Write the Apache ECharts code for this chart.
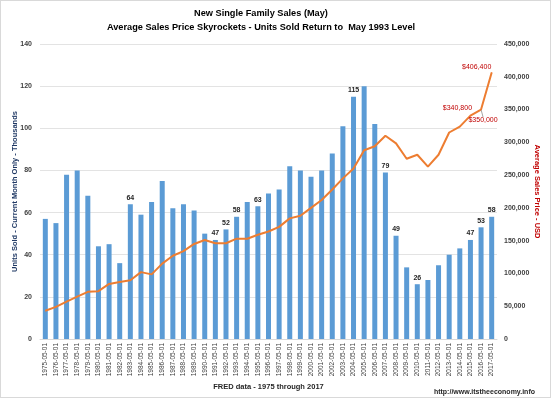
<!DOCTYPE html>
<html><head><meta charset="utf-8">
<script src="https://cdn.jsdelivr.net/npm/echarts@6/dist/echarts.min.js"></script>
<style>html,body{margin:0;padding:0;background:#fff}#c{width:551px;height:398px;box-sizing:border-box;border:1px solid #d9d9d9}</style>
</head><body><div id="c"></div>
<script>
const years = [1975,1976,1977,1978,1979,1980,1981,1982,1983,1984,1985,1986,1987,1988,1989,1990,1991,1992,1993,1994,1995,1996,1997,1998,1999,2000,2001,2002,2003,2004,2005,2006,2007,2008,2009,2010,2011,2012,2013,2014,2015,2016,2017];
const categories = years.map(y => y + '-05-01');
const unitsSold = [57,55,78,80,68,44,45,36,64,59,65,75,62,64,61,50,47,52,58,65,63,69,71,82,80,77,80,88,101,115,120,102,79,49,34,26,28,35,40,43,47,53,58];
const avgPrice = [43000,49000,57000,64500,72000,73000,84000,87000,89500,102000,98600,115000,127000,134000,145000,151000,146000,146000,153000,153000,159000,164000,171000,184000,188000,200000,212000,228000,245000,260000,288000,294000,310000,298500,275000,281000,263000,281000,315000,324000,340800,350000,406400];
const labeledBarYears = [1983,1991,1992,1993,1995,2004,2007,2008,2010,2015,2016,2017];
const labeledPriceYears = [2015,2016,2017];
const leftTicks = {min:0, max:140, interval:20};
const rightTicks = {min:0, max:450000, interval:50000};

const fmt = v => v.toString().replace(/\B(?=(\d{3})+(?!\d))/g, ',');
const F = 'Liberation Sans';

const barData = unitsSold.map((v,i) => labeledBarYears.includes(years[i]) ?
  {value:v, label:{show:true, position:'top', distance:3, fontSize:7, fontWeight:'bold', color:'#262626', fontFamily:F}} : v);
const priceLabelShift = {2015:[-13,1], 2016:[2,20], 2017:[-15,3]};
const lineData = avgPrice.map((v,i) => {
  if (labeledPriceYears.includes(years[i])) {
    return {value:v,
      label:{show:true, position:'top', formatter: p => '$' + fmt(p.value), fontSize:7, color:'#c00000', fontFamily:F},
      labelLine:{show: years[i] === 2016, lineStyle:{color:'#a6a6a6', width:1}}};
  }
  return v;
});

const chart = echarts.init(document.getElementById('c'));
chart.setOption({
  animation:false,
  textStyle:{fontFamily:F},
  grid:{left:39, right:53, top:43, bottom:58, outerBoundsMode:'none', containLabel:false},
  xAxis:{type:'category', data:categories,
    axisLabel:{rotate:90, interval:0, fontSize:6.5, color:'#404040', margin:4, fontFamily:F},
    axisTick:{show:false}, axisLine:{lineStyle:{color:'#d9d9d9'}},
    name:'FRED data - 1975 through 2017', nameLocation:'middle', nameGap:44, nameMoveOverlap:false,
    nameTextStyle:{fontSize:7.5, fontWeight:'bold', color:'#262626', fontFamily:F}},
  yAxis:[
    {type:'value', min:leftTicks.min, max:leftTicks.max, interval:leftTicks.interval,
     axisLabel:{fontSize:7, fontWeight:'bold', color:'#404040', margin:8},
     splitLine:{lineStyle:{color:'#e3e3e3'}}, axisLine:{show:false}, axisTick:{show:false},
     name:'Units Sold - Current Month Only - Thousands', nameLocation:'middle', nameGap:21, nameRotate:90, nameMoveOverlap:false,
     nameTextStyle:{fontSize:7.5, fontWeight:'bold', color:'#1f3864'}},
    {type:'value', min:rightTicks.min, max:rightTicks.max, interval:rightTicks.interval,
     axisLabel:{fontSize:7, fontWeight:'bold', color:'#404040', margin:7, formatter: v => fmt(v)},
     splitLine:{show:false}, axisLine:{show:false}, axisTick:{show:false},
     name:'Average Sales Price - USD', nameLocation:'middle', nameGap:36, nameRotate:-90, nameMoveOverlap:false,
     nameTextStyle:{fontSize:7.5, fontWeight:'bold', color:'#c00000'}}
  ],
  series:[
    {type:'bar', data:barData, yAxisIndex:0, barWidth:5, itemStyle:{color:'#5b9bd5'}},
    {type:'line', data:lineData, yAxisIndex:1, symbol:'circle', symbolSize:1, showSymbol:true,
     itemStyle:{color:'#ed7d31'}, lineStyle:{color:'#ed7d31', width:2}, z:5,
     labelLayout: p => { const s = priceLabelShift[years[p.dataIndex]]; return s ? {dx:s[0], dy:s[1]} : {}; }}
  ],
  graphic:[
    {type:'text', x:260, y:8, style:{text:'New Single Family Sales (May)', fontSize:9.2, fontWeight:'bold', fill:'#000', fontFamily:F, align:'center'}},
    {type:'text', x:260, y:22, style:{text:'Average Sales Price Skyrockets - Units Sold Return to  May 1993 Level', fontSize:9.2, fontWeight:'bold', fill:'#000', fontFamily:F, align:'center'}},
    {type:'text', right:15, bottom:1, style:{text:'http://www.itstheeconomy.info', fontSize:7, fontWeight:'bold', fill:'#262626', fontFamily:F}}
  ]
});
</script></body></html>
